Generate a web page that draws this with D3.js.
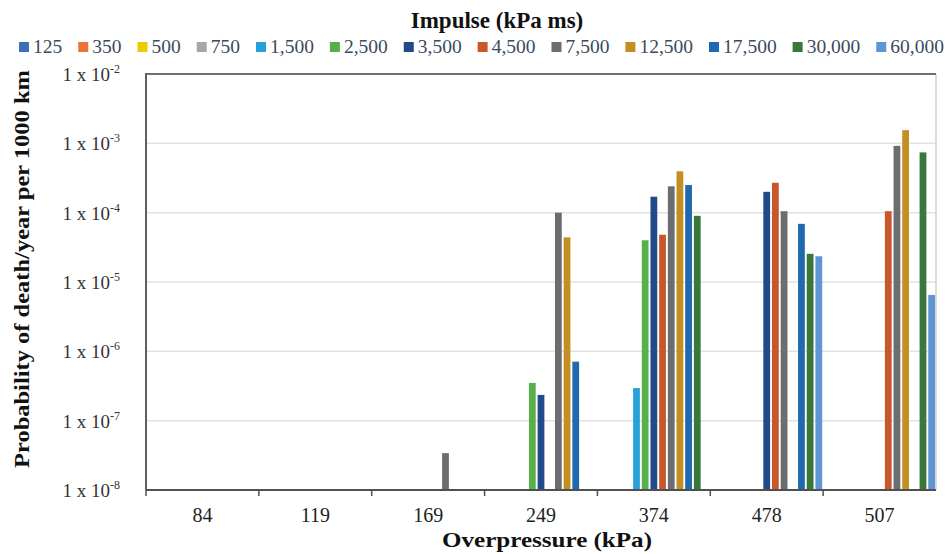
<!DOCTYPE html>
<html>
<head>
<meta charset="utf-8">
<script src="https://cdn.jsdelivr.net/npm/d3@7"></script>
<style>
  html, body { margin: 0; padding: 0; background: #fff; }
  svg { display: block; font-family: "Liberation Serif", "Times New Roman", serif; }
</style>
</head>
<body>
<svg id="chart" width="951" height="554"></svg>
<script>
// Overpressure categories (kPa)
const categories = ["84", "119", "169", "249", "374", "478", "507"];

// Impulse series (kPa ms)
const seriesNames = ["125", "350", "500", "750", "1,500", "2,500", "3,500",
                     "4,500", "7,500", "12,500", "17,500", "30,000", "60,000"];

const seriesColors = ["#3f6fb5", "#ec7434", "#e9cd00", "#a5a7aa", "#27a2d8", "#58b04c",
                      "#22498a", "#c8582a", "#6c6d70", "#c38e22", "#1f6aae", "#3a773a", "#5e95d6"];

// Probability of death/year per 1000 km, one value per overpressure category
const v125   = [null, null, null, null, null, null, null];
const v350   = [null, null, null, null, null, null, null];
const v500   = [null, null, null, null, null, null, null];
const v750   = [null, null, null, null, null, null, null];
const v1500  = [null, null, null, null, 2.95e-7, null, null];
const v2500  = [null, null, null, 3.5e-7, 4.0e-5, null, null];
const v3500  = [null, null, null, 2.35e-7, 1.7e-4, 2.0e-4, null];
const v4500  = [null, null, null, null, 4.8e-5, 2.7e-4, 1.05e-4];
const v7500  = [null, null, 3.4e-8, 1.0e-4, 2.4e-4, 1.05e-4, 9.2e-4];
const v12500 = [null, null, null, 4.4e-5, 3.95e-4, null, 1.55e-3];
const v17500 = [null, null, null, 7.1e-7, 2.5e-4, 6.9e-5, null];
const v30000 = [null, null, null, null, 9.0e-5, 2.55e-5, 7.4e-4];
const v60000 = [null, null, null, null, null, 2.35e-5, 6.5e-6];

const seriesValues = [v125, v350, v500, v750, v1500, v2500, v3500,
                      v4500, v7500, v12500, v17500, v30000, v60000];

// Y-axis decades (exponents of 10)
const yExponents = [-8, -7, -6, -5, -4, -3, -2];

const svg = d3.select("#chart");
const margin = { left: 146, right: 15, top: 74, bottom: 64 };
const W = 951, H = 554;
const x0 = margin.left, x1 = W - margin.right;
const yTop = margin.top, yBot = H - margin.bottom;

const x = d3.scaleBand().domain(categories).range([x0, x1]).padding(0);
const xs = d3.scaleBand().domain(seriesNames).range([0, x.bandwidth()])
  .paddingInner(0.22).paddingOuter(0.11);
const y = d3.scaleLog().domain([1e-8, 1e-2]).range([yBot, yTop]);

// Horizontal gridlines
svg.append("g").selectAll("line")
  .data(yExponents.slice(1, -1))
  .join("line")
  .attr("x1", x0).attr("x2", x1)
  .attr("y1", e => y(Math.pow(10, e))).attr("y2", e => y(Math.pow(10, e)))
  .attr("stroke", "#e2e2e2").attr("stroke-width", 1.5);

// Right border
svg.append("line")
  .attr("x1", x1).attr("x2", x1).attr("y1", yTop).attr("y2", yBot)
  .attr("stroke", "#d0d0d0").attr("stroke-width", 1.5);

// Bars
const barData = [];
seriesValues.forEach((vals, si) => {
  vals.forEach((v, ci) => {
    if (v != null) barData.push({ s: seriesNames[si], c: categories[ci], v, color: seriesColors[si] });
  });
});

svg.append("g").selectAll("rect")
  .data(barData)
  .join("rect")
  .attr("x", d => x(d.c) + xs(d.s))
  .attr("width", xs.bandwidth())
  .attr("y", d => y(d.v))
  .attr("height", d => y(1e-8) - y(d.v))
  .attr("fill", d => d.color);

// Top border
svg.append("line")
  .attr("x1", x0 - 1).attr("x2", x1).attr("y1", yTop).attr("y2", yTop)
  .attr("stroke", "#707070").attr("stroke-width", 2);

// Left axis line
svg.append("line")
  .attr("x1", x0).attr("x2", x0).attr("y1", yTop - 1).attr("y2", yBot)
  .attr("stroke", "#606060").attr("stroke-width", 2);

// Bottom axis with category ticks at band boundaries
const xAxis = svg.append("g").attr("transform", `translate(0,${yBot})`)
  .call(d3.axisBottom(x).tickSize(0).tickPadding(20));
xAxis.select(".domain").attr("stroke", "#505050").attr("stroke-width", 2)
  .attr("d", `M${x0},0H${x1}`);
xAxis.selectAll(".tick text")
  .attr("font-family", "Liberation Serif, serif")
  .attr("font-size", 20).attr("fill", "#222").attr("dy", "0.6em");
xAxis.append("g").selectAll("line")
  .data(categories)
  .join("line")
  .attr("x1", c => x(c)).attr("x2", c => x(c))
  .attr("y1", 0).attr("y2", 6)
  .attr("stroke", "#505050").attr("stroke-width", 1.5);

// Y tick labels "1 x 10^n"
const yl = svg.append("g").selectAll("text")
  .data(yExponents)
  .join("text")
  .attr("x", 120)
  .attr("y", e => y(Math.pow(10, e)) + 7)
  .attr("text-anchor", "end")
  .attr("font-size", 19)
  .attr("fill", "#333");
yl.append("tspan").text("1 x 10");
yl.append("tspan").attr("font-size", 12).attr("dy", -8).text(e => String(e));

// Axis titles
svg.append("text")
  .attr("x", 547).attr("y", 547)
  .attr("text-anchor", "middle")
  .attr("font-size", 22).attr("font-weight", "bold").attr("fill", "#111")
  .attr("textLength", 210).attr("lengthAdjust", "spacingAndGlyphs")
  .text("Overpressure (kPa)");

svg.append("text")
  .attr("transform", "translate(29,269) rotate(-90)")
  .attr("text-anchor", "middle")
  .attr("font-size", 22).attr("font-weight", "bold").attr("fill", "#111")
  .attr("textLength", 398).attr("lengthAdjust", "spacingAndGlyphs")
  .text("Probability of death/year per 1000 km");

// Legend title
svg.append("text")
  .attr("x", 497).attr("y", 28)
  .attr("text-anchor", "middle")
  .attr("font-size", 23).attr("font-weight", "bold").attr("fill", "#111")
  .text("Impulse (kPa ms)");

// Legend items laid out left to right
const legend = svg.append("g");
let lx = 19;
seriesNames.forEach((name, i) => {
  const g = legend.append("g").attr("transform", `translate(${lx},0)`);
  g.append("rect").attr("x", 0).attr("y", 42).attr("width", 10).attr("height", 10)
    .attr("fill", seriesColors[i]);
  const t = g.append("text").attr("x", 14).attr("y", 53)
    .attr("font-size", 19.5).attr("fill", "#3b4a5e").text(name);
  lx += 14 + t.node().getComputedTextLength() + 16;
});
</script>
</body>
</html>
